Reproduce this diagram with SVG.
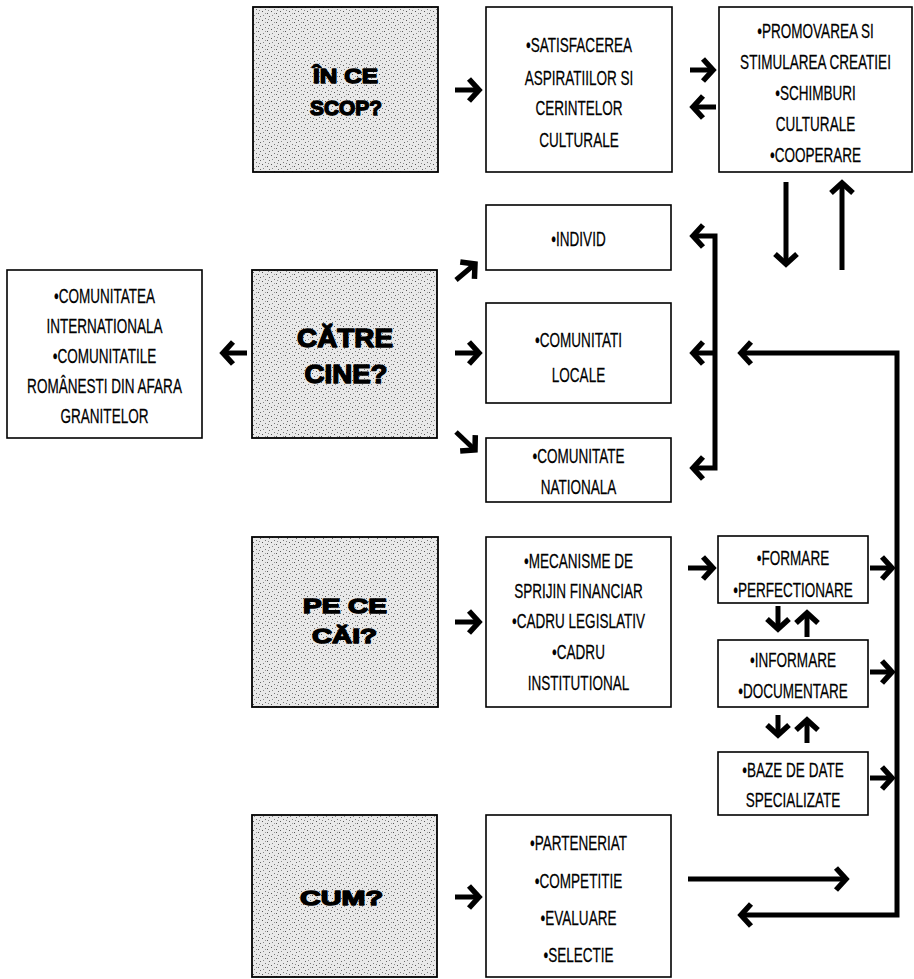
<svg xmlns="http://www.w3.org/2000/svg" width="914" height="979" viewBox="0 0 914 979">
<style>
.box{fill:#fff;stroke:#000;stroke-width:1.6}
.qbox{fill:url(#stip);stroke:#000;stroke-width:1.8}
.t{font-family:"Liberation Sans",Arial,sans-serif;font-size:20.5px;fill:#000;stroke:#000;stroke-width:0.25;text-anchor:middle}
.q{font-family:"Liberation Sans",Arial,sans-serif;font-weight:bold;fill:#000;stroke:#000;stroke-width:1.4;stroke-linejoin:round;text-anchor:middle}
.c{fill:none;stroke:#000;stroke-width:5}
</style>
<defs>
<pattern id="stip" width="9" height="9" patternUnits="userSpaceOnUse">
<rect width="9" height="9" fill="#e9e9e9"/>
<rect x="1" y="2" width="1" height="1" fill="#555"/>
<rect x="4" y="0" width="1" height="1" fill="#777"/>
<rect x="6" y="4" width="1" height="1" fill="#555"/>
<rect x="2" y="6" width="1" height="1" fill="#888"/>
<rect x="8" y="7" width="1" height="1" fill="#666"/>
<rect x="4" y="4" width="1" height="1" fill="#999"/>
<rect x="7" y="1" width="1" height="1" fill="#888"/>
</pattern>
<marker id="h" viewBox="-16 -16 32 32" markerWidth="32" markerHeight="32" refX="0" refY="0" orient="auto-start-reverse" markerUnits="userSpaceOnUse">
<path d="M-10,-11 L0,0 L-10,11" fill="none" stroke="#000" stroke-width="5.5" stroke-linejoin="miter"/>
</marker>
</defs>

<g id="q1">
<rect class="qbox" x="253" y="7" width="185" height="165"/>
<text class="q" x="345.5" y="83" font-size="21" textLength="65" lengthAdjust="spacingAndGlyphs">ÎN CE</text>
<text class="q" x="346" y="115" font-size="21" textLength="72" lengthAdjust="spacingAndGlyphs">SCOP?</text>
</g>

<g id="satisfacerea">
<rect class="box" x="486" y="7" width="186" height="165"/>
<g transform="translate(579 0) scale(0.66 1)">
<text class="t" x="0" y="52">•SATISFACEREA</text>
<text class="t" x="0" y="85">ASPIRATIILOR SI</text>
<text class="t" x="0" y="115">CERINTELOR</text>
<text class="t" x="0" y="147">CULTURALE</text>
</g>
</g>

<g id="promovarea">
<rect class="box" x="719" y="7" width="193" height="165"/>
<g transform="translate(815.5 0) scale(0.66 1)">
<text class="t" x="0" y="38">•PROMOVAREA SI</text>
<text class="t" x="0" y="69">STIMULAREA CREATIEI</text>
<text class="t" x="0" y="100">•SCHIMBURI</text>
<text class="t" x="0" y="131">CULTURALE</text>
<text class="t" x="0" y="162">•COOPERARE</text>
</g>
</g>

<g id="comunitatea">
<rect class="box" x="7" y="270" width="195" height="168"/>
<g transform="translate(104.5 0) scale(0.66 1)">
<text class="t" x="0" y="303">•COMUNITATEA</text>
<text class="t" x="0" y="333">INTERNATIONALA</text>
<text class="t" x="0" y="363">•COMUNITATILE</text>
<text class="t" x="0" y="393">ROMÂNESTI DIN AFARA</text>
<text class="t" x="0" y="423">GRANITELOR</text>
</g>
</g>

<g id="q2">
<rect class="qbox" x="252" y="270" width="185" height="168"/>
<text class="q" x="345" y="347" font-size="26" textLength="96" lengthAdjust="spacingAndGlyphs">CĂTRE</text>
<text class="q" x="346" y="383" font-size="26" textLength="83" lengthAdjust="spacingAndGlyphs">CINE?</text>
</g>

<g id="individ">
<rect class="box" x="486" y="205" width="185" height="65"/>
<g transform="translate(578.5 0) scale(0.66 1)">
<text class="t" x="0" y="246">•INDIVID</text>
</g>
</g>

<g id="locale">
<rect class="box" x="486" y="303" width="185" height="100"/>
<g transform="translate(578.5 0) scale(0.66 1)">
<text class="t" x="0" y="347">•COMUNITATI</text>
<text class="t" x="0" y="382">LOCALE</text>
</g>
</g>

<g id="nationala">
<rect class="box" x="486" y="438" width="185" height="64"/>
<g transform="translate(578.5 0) scale(0.66 1)">
<text class="t" x="0" y="463">•COMUNITATE</text>
<text class="t" x="0" y="494">NATIONALA</text>
</g>
</g>

<g id="q3">
<rect class="qbox" x="252" y="537" width="186" height="170"/>
<text class="q" x="345" y="613" font-size="21" textLength="84" lengthAdjust="spacingAndGlyphs">PE CE</text>
<text class="q" x="344.5" y="643" font-size="21" textLength="65" lengthAdjust="spacingAndGlyphs">CĂI?</text>
</g>

<g id="mecanisme">
<rect class="box" x="486" y="537" width="185" height="170"/>
<g transform="translate(578.5 0) scale(0.66 1)">
<text class="t" x="0" y="568">•MECANISME DE</text>
<text class="t" x="0" y="598">SPRIJIN FINANCIAR</text>
<text class="t" x="0" y="628">•CADRU LEGISLATIV</text>
<text class="t" x="0" y="659">•CADRU</text>
<text class="t" x="0" y="690">INSTITUTIONAL</text>
</g>
</g>

<g id="formare">
<rect class="box" x="718" y="536" width="150" height="67"/>
<g transform="translate(793 0) scale(0.66 1)">
<text class="t" x="0" y="565">•FORMARE</text>
<text class="t" x="0" y="597">•PERFECTIONARE</text>
</g>
</g>

<g id="informare">
<rect class="box" x="718" y="640" width="150" height="67"/>
<g transform="translate(793 0) scale(0.66 1)">
<text class="t" x="0" y="667">•INFORMARE</text>
<text class="t" x="0" y="698">•DOCUMENTARE</text>
</g>
</g>

<g id="baze">
<rect class="box" x="718" y="752" width="150" height="63"/>
<g transform="translate(793 0) scale(0.66 1)">
<text class="t" x="0" y="777">•BAZE DE DATE</text>
<text class="t" x="0" y="807">SPECIALIZATE</text>
</g>
</g>

<g id="q4">
<rect class="qbox" x="252" y="815" width="185" height="162"/>
<text class="q" x="341.5" y="905" font-size="21" textLength="83" lengthAdjust="spacingAndGlyphs">CUM?</text>
</g>

<g id="parteneriat">
<rect class="box" x="486" y="815" width="185" height="162"/>
<g transform="translate(578.5 0) scale(0.66 1)">
<text class="t" x="0" y="850">•PARTENERIAT</text>
<text class="t" x="0" y="888">•COMPETITIE</text>
<text class="t" x="0" y="925">•EVALUARE</text>
<text class="t" x="0" y="962">•SELECTIE</text>
</g>
</g>

<g id="connectors">
<path class="c" d="M455,90 H479" marker-end="url(#h)"/>
<path class="c" d="M690,70 H713" marker-end="url(#h)"/>
<path class="c" d="M716,107 H693" marker-end="url(#h)"/>
<path class="c" d="M786,182 V264" marker-end="url(#h)"/>
<path class="c" d="M842,270 V183" marker-end="url(#h)"/>
<path class="c" d="M247,353 H223" marker-end="url(#h)"/>
<path class="c" d="M456,280 L475,264" marker-end="url(#h)"/>
<path class="c" d="M455,353 H479" marker-end="url(#h)"/>
<path class="c" d="M456,432 L475,450" marker-end="url(#h)"/>
<path class="c" d="M693,236 H715 V468 H693" marker-start="url(#h)" marker-end="url(#h)"/>
<path class="c" d="M715,353 H693" marker-end="url(#h)"/>
<path class="c" d="M741,353 H897 V915 H741" marker-start="url(#h)" marker-end="url(#h)"/>
<path class="c" d="M688,568 H713" marker-end="url(#h)"/>
<path class="c" d="M455,622 H479" marker-end="url(#h)"/>
<path class="c" d="M778,606 V629" marker-end="url(#h)"/>
<path class="c" d="M807,637 V613" marker-end="url(#h)"/>
<path class="c" d="M778,715 V735" marker-end="url(#h)"/>
<path class="c" d="M807,743 V720" marker-end="url(#h)"/>
<path class="c" d="M870,568 H892" marker-end="url(#h)"/>
<path class="c" d="M870,672 H892" marker-end="url(#h)"/>
<path class="c" d="M870,778 H892" marker-end="url(#h)"/>
<path class="c" d="M455,897 H479" marker-end="url(#h)"/>
<path class="c" d="M688,879 H846" marker-end="url(#h)"/>
</g>
</svg>
